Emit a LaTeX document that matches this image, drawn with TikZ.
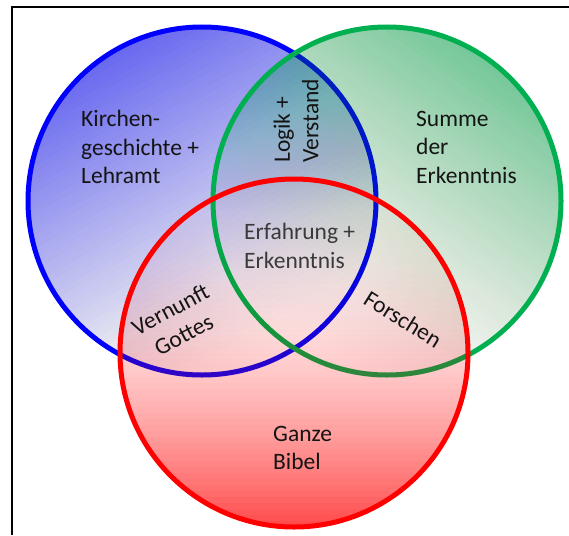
\documentclass[tikz,border=0pt]{standalone}
\usepackage{fontspec}
\setmainfont{Carlito}
\definecolor{bluering}{HTML}{0000FF}
\definecolor{greenring}{HTML}{00B050}
\definecolor{redring}{HTML}{FF0000}
\definecolor{bluefill}{HTML}{1E1EF0}
\definecolor{greenfill}{HTML}{00B050}
\definecolor{redfill}{HTML}{FF3C3C}
\definecolor{ink}{HTML}{141414}
\definecolor{dim}{HTML}{3A3A3A}

% stacked bands: opacity b + r*p^e, p running from the light side to the dark side
\newcommand\ringfill[6]{%
  \begin{scope}[shift={(#1)},rotate=#2]
    \clip (0,0) circle[radius=174];
    \foreach \k in {1,...,58}{%
      \pgfmathsetmacro\tnow{#4+#5*((\k-0.5)/58)^#6}%
      \ifnum\k=1 \def\tprev{0}\else\pgfmathsetmacro\tprev{#4+#5*((\k-1.5)/58)^#6}\fi
      \pgfmathsetmacro\inc{1-(1-\tnow)/(1-\tprev)}%
      \fill[#3,fill opacity=\inc] (-180,{-174+(\k-1)*6}) rectangle (180,180);
    }
  \end{scope}}

\begin{document}
\begin{tikzpicture}[x=1pt,y=-1pt,
  ring/.style={line width=5pt},
  venntext/.style={font=\fontsize{23.5}{28.5}\selectfont,text=ink,inner sep=0pt,align=left}]
\useasboundingbox (0,0) rectangle (569,535);
\fill[white] (0,0) rectangle (569,535);
\draw[line width=1.2pt] (12,535) -- (12,7) -- (569,7);

\coordinate (kirche) at (202,201);
\coordinate (wissen) at (387,201);
\coordinate (bibel) at (294,353);

\ringfill{kirche}{210}{bluefill}{0}{0.62}{1.4}
\draw[ring,bluering] (kirche) circle[radius=174];
\ringfill{wissen}{145}{greenfill}{0}{0.5}{1.6}
\draw[ring,greenring] (wissen) circle[radius=174];
\ringfill{bibel}{0}{redfill}{0.02}{0.88}{2.3}
\draw[ring,redring] (bibel) circle[radius=174];

\node[venntext,anchor=west] (lehramt) at (81,147) {Kirchen-\\geschichte +\\Lehramt};
\node[venntext,anchor=west] (summe) at (416,147) {Summe\\der\\Erkenntnis};
\node[venntext,anchor=west,rotate=90] (logik) at (296,163) {Logik +\\Verstand};
\node[venntext,anchor=west,text=dim] (erfahrung) at (244,246) {Erfahrung +\\Erkenntnis};
\node[venntext,align=center,rotate=28] (vernunft) at (177,322) {Vernunft\\Gottes};
\node[venntext,rotate=-32] (forschen) at (403,319) {Forschen};
\node[venntext,anchor=west] (ganze) at (273,448) {Ganze\\Bibel};
\end{tikzpicture}
\end{document}
